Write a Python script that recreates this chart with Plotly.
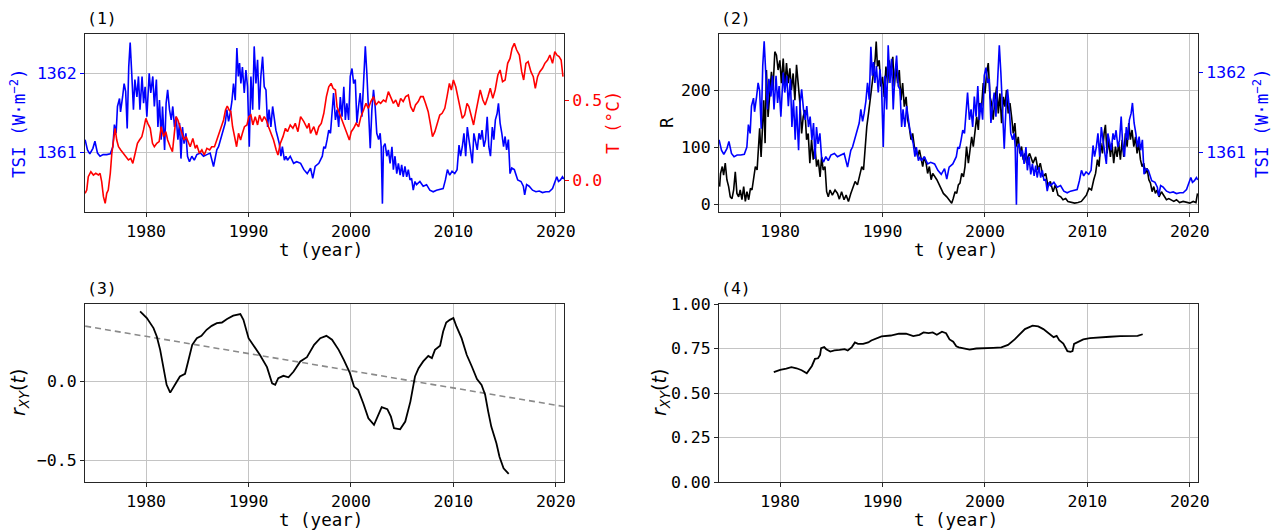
import plotly.graph_objects as go

# ---------------- data ----------------
tsi_t = [1974.04,1974.27,1974.5,1974.8,1975.0,1975.25,1975.5,1975.8,1976.15,1976.5,1976.75,1976.9,1977.07,1977.2,1977.4,1977.5,1977.7,1977.85,1978.0,1978.15,1978.3,1978.44,1978.6,1978.76,1978.9,1979.1,1979.25,1979.4,1979.6,1979.75,1979.9,1980.07,1980.3,1980.45,1980.65,1980.8,1981.0,1981.15,1981.3,1981.47,1981.6,1981.8,1981.95,1982.1,1982.28,1982.45,1982.6,1982.77,1982.93,1983.1,1983.26,1983.4,1983.55,1983.7,1983.88,1984.04,1984.23,1984.46,1984.7,1984.95,1985.3,1985.6,1985.93,1986.25,1986.58,1986.74,1986.9,1987.07,1987.23,1987.4,1987.56,1987.72,1987.88,1988.05,1988.2,1988.37,1988.53,1988.7,1988.86,1989.0,1989.12,1989.25,1989.4,1989.58,1989.74,1989.9,1990.07,1990.23,1990.4,1990.55,1990.72,1990.88,1991.04,1991.2,1991.37,1991.53,1991.7,1991.86,1992.0,1992.18,1992.35,1992.5,1992.67,1992.83,1993.0,1993.16,1993.3,1993.5,1993.65,1993.8,1994.07,1994.4,1994.7,1995.08,1995.4,1995.73,1996.05,1996.27,1996.5,1996.86,1997.2,1997.35,1997.5,1997.67,1997.83,1998.0,1998.15,1998.3,1998.48,1998.64,1998.8,1998.96,1999.13,1999.3,1999.45,1999.6,1999.77,1999.93,2000.1,2000.26,2000.42,2000.58,2000.74,2000.9,2001.07,2001.23,2001.4,2001.55,2001.7,2001.88,2002.04,2002.2,2002.36,2002.52,2002.7,2002.85,2002.95,2003.07,2003.17,2003.33,2003.5,2003.65,2003.82,2004.0,2004.14,2004.3,2004.47,2004.63,2004.8,2004.95,2005.1,2005.27,2005.44,2005.6,2005.76,2005.92,2006.08,2006.25,2006.4,2006.73,2007.05,2007.38,2007.7,2008.03,2008.35,2008.67,2009.0,2009.22,2009.42,2009.64,2009.87,2010.13,2010.36,2010.55,2010.7,2010.87,2011.03,2011.2,2011.36,2011.52,2011.68,2011.85,2012.0,2012.17,2012.33,2012.5,2012.65,2012.8,2012.98,2013.14,2013.3,2013.46,2013.62,2013.8,2013.95,2014.1,2014.27,2014.4,2014.56,2014.73,2014.9,2015.05,2015.2,2015.37,2015.53,2015.7,2015.95,2016.28,2016.6,2016.83,2016.96,2017.15,2017.4,2017.73,2018.06,2018.38,2018.7,2019.03,2019.35,2019.68,2019.94,2020.1,2020.26,2020.45,2020.65,2020.78]
tsi = [1361.16,1361.03,1360.98,1361.05,1361.14,1360.99,1360.95,1360.97,1360.97,1360.98,1361.07,1361.35,1361.24,1361.58,1361.68,1361.51,1361.70,1361.87,1361.77,1361.30,1362.08,1362.39,1361.98,1361.54,1361.92,1361.70,1361.96,1361.54,1361.96,1361.62,1361.83,1361.45,1362.0,1361.75,1361.96,1361.58,1361.92,1361.32,1361.66,1361.16,1361.58,1361.03,1361.62,1361.79,1361.54,1361.41,1361.58,1361.32,1361.45,1361.16,1361.37,1360.92,1361.32,1361.11,1361.24,1360.95,1360.88,1360.95,1360.90,1360.97,1360.99,1360.95,1360.97,1360.99,1360.82,1360.95,1361.03,1361.07,1361.14,1361.24,1361.28,1361.37,1361.54,1361.39,1361.49,1361.64,1361.87,1361.66,1362.32,1361.96,1362.13,1361.87,1362.08,1361.75,1362.04,1361.83,1361.07,1361.96,1361.54,1362.34,1361.87,1362.17,1361.54,1361.96,1362.21,1361.83,1361.79,1361.32,1361.54,1361.32,1361.58,1361.41,1361.28,1361.20,1361.11,1360.95,1361.07,1360.90,1360.95,1360.90,1360.95,1360.86,1360.88,1360.86,1360.78,1360.73,1360.80,1360.67,1360.82,1360.86,1360.95,1361.07,1361.05,1361.16,1361.28,1361.24,1361.49,1361.75,1361.41,1361.54,1361.32,1361.70,1361.45,1361.83,1361.41,1361.62,1361.41,1361.96,1362.06,1361.87,1361.92,1361.37,1361.58,1361.75,1361.45,1361.92,1362.34,1362.0,1361.62,1361.05,1361.54,1361.79,1361.58,1361.24,1361.16,1361.24,1361.07,1360.35,1361.07,1361.11,1360.95,1361.03,1360.86,1361.07,1360.78,1360.95,1360.73,1360.86,1360.71,1360.84,1360.69,1360.82,1360.69,1360.78,1360.65,1360.67,1360.52,1360.63,1360.59,1360.63,1360.57,1360.59,1360.52,1360.50,1360.52,1360.53,1360.54,1360.65,1360.78,1360.71,1360.76,1360.73,1360.78,1361.09,1360.95,1361.07,1361.24,1360.95,1361.32,1361.16,1360.99,1360.86,1361.24,1361.11,1361.03,1361.24,1361.16,1361.28,1361.07,1361.16,1361.45,1361.07,1360.95,1361.32,1361.16,1361.41,1361.49,1361.62,1361.37,1361.24,1361.07,1361.20,1361.03,1361.16,1360.73,1360.80,1360.78,1360.65,1360.63,1360.57,1360.46,1360.59,1360.57,1360.52,1360.50,1360.51,1360.49,1360.50,1360.50,1360.54,1360.63,1360.69,1360.63,1360.65,1360.69,1360.66]

temp_t = [1974.04,1974.2,1974.35,1974.6,1974.85,1975.08,1975.34,1975.5,1975.66,1975.83,1976.0,1976.15,1976.3,1976.5,1976.65,1976.8,1976.97,1977.13,1977.3,1977.52,1977.8,1978.05,1978.27,1978.5,1978.7,1978.93,1979.15,1979.35,1979.58,1979.74,1979.97,1980.16,1980.4,1980.62,1980.8,1981.04,1981.27,1981.47,1981.7,1981.92,1982.1,1982.35,1982.57,1982.77,1982.93,1983.1,1983.26,1983.5,1983.7,1983.9,1984.14,1984.3,1984.56,1984.8,1984.95,1985.2,1985.44,1985.67,1985.93,1986.2,1986.4,1986.67,1986.9,1987.13,1987.36,1987.56,1987.75,1987.92,1988.1,1988.27,1988.44,1988.63,1988.83,1989.02,1989.22,1989.4,1989.6,1989.84,1990.03,1990.23,1990.42,1990.65,1990.88,1991.07,1991.3,1991.53,1991.73,1991.95,1992.18,1992.44,1992.7,1992.87,1993.1,1993.36,1993.6,1993.8,1994.07,1994.33,1994.56,1994.82,1995.08,1995.4,1995.73,1995.9,1996.05,1996.37,1996.63,1996.86,1997.1,1997.35,1997.6,1997.83,1998.06,1998.25,1998.48,1998.64,1998.87,1999.13,1999.35,1999.6,1999.84,2000.03,2000.26,2000.5,2000.74,2000.97,2001.23,2001.46,2001.7,2001.94,2002.2,2002.43,2002.7,2002.9,2003.17,2003.4,2003.65,2003.88,2004.14,2004.37,2004.63,2004.85,2005.1,2005.34,2005.6,2005.83,2006.08,2006.3,2006.57,2006.8,2007.05,2007.28,2007.54,2007.77,2007.96,2008.19,2008.41,2008.67,2008.9,2009.16,2009.38,2009.61,2009.8,2010.0,2010.23,2010.45,2010.68,2010.87,2011.1,2011.33,2011.52,2011.75,2011.97,2012.17,2012.4,2012.62,2012.88,2013.1,2013.37,2013.6,2013.85,2014.08,2014.34,2014.56,2014.8,2015.05,2015.3,2015.53,2015.73,2015.95,2016.18,2016.44,2016.67,2016.86,2017.08,2017.3,2017.57,2017.8,2018.0,2018.22,2018.44,2018.7,2018.93,2019.2,2019.42,2019.68,2019.9,2020.1,2020.32,2020.52,2020.7]
temp = [-0.083,-0.063,0.021,0.052,0.031,0.042,0.031,0.042,-0.01,-0.104,-0.146,-0.083,-0.063,0.042,0.167,0.25,0.323,0.25,0.208,0.188,0.167,0.146,0.125,0.135,0.104,0.167,0.229,0.25,0.271,0.313,0.385,0.354,0.323,0.229,0.208,0.229,0.24,0.333,0.271,0.302,0.25,0.208,0.177,0.302,0.396,0.375,0.344,0.292,0.25,0.271,0.229,0.208,0.26,0.198,0.219,0.167,0.188,0.156,0.198,0.188,0.208,0.208,0.25,0.292,0.333,0.375,0.438,0.4625,0.438,0.427,0.333,0.271,0.208,0.292,0.25,0.292,0.333,0.344,0.396,0.406,0.344,0.396,0.344,0.406,0.365,0.396,0.375,0.333,0.292,0.25,0.188,0.156,0.229,0.271,0.323,0.302,0.344,0.323,0.354,0.302,0.396,0.365,0.323,0.354,0.292,0.333,0.281,0.333,0.354,0.417,0.521,0.583,0.604,0.573,0.5625,0.458,0.417,0.375,0.344,0.292,0.25,0.302,0.323,0.354,0.333,0.396,0.438,0.479,0.448,0.49,0.521,0.469,0.49,0.479,0.5,0.49,0.552,0.521,0.479,0.5,0.458,0.51,0.49,0.521,0.531,0.458,0.427,0.469,0.49,0.521,0.521,0.479,0.427,0.344,0.271,0.302,0.354,0.406,0.417,0.448,0.521,0.604,0.5625,0.625,0.583,0.521,0.438,0.385,0.406,0.479,0.458,0.396,0.344,0.417,0.5,0.5625,0.5,0.469,0.521,0.573,0.51,0.5625,0.656,0.6875,0.615,0.625,0.729,0.76,0.823,0.854,0.8125,0.781,0.677,0.625,0.729,0.74,0.677,0.646,0.573,0.646,0.677,0.698,0.729,0.75,0.781,0.729,0.802,0.781,0.771,0.75,0.646]

ssn_t = [1974.09,1974.18,1974.35,1974.48,1974.64,1974.8,1974.97,1975.13,1975.3,1975.46,1975.62,1975.78,1975.95,1976.1,1976.27,1976.44,1976.6,1976.76,1976.93,1977.1,1977.25,1977.42,1977.58,1977.75,1977.9,1978.0,1978.14,1978.27,1978.4,1978.53,1978.66,1978.82,1979.0,1979.15,1979.3,1979.48,1979.64,1979.8,1979.97,1980.13,1980.3,1980.46,1980.62,1980.78,1980.95,1981.1,1981.27,1981.44,1981.6,1981.76,1981.93,1982.1,1982.25,1982.42,1982.58,1982.74,1982.9,1983.07,1983.23,1983.4,1983.56,1983.72,1983.9,1984.05,1984.2,1984.38,1984.54,1984.7,1984.87,1985.1,1985.36,1985.6,1985.78,1986.0,1986.24,1986.44,1986.67,1986.9,1987.1,1987.32,1987.55,1987.75,1987.97,1988.14,1988.3,1988.46,1988.63,1988.8,1988.95,1989.12,1989.28,1989.38,1989.5,1989.67,1989.83,1990.0,1990.16,1990.33,1990.5,1990.65,1990.82,1991.0,1991.14,1991.3,1991.47,1991.63,1991.8,1991.96,1992.12,1992.3,1992.45,1992.6,1992.78,1992.94,1993.1,1993.27,1993.43,1993.6,1993.76,1993.92,1994.08,1994.25,1994.4,1994.57,1994.74,1994.9,1995.3,1995.6,1995.94,1996.27,1996.6,1996.75,1996.9,1997.08,1997.24,1997.4,1997.56,1997.73,1997.9,1998.05,1998.2,1998.38,1998.54,1998.7,1998.86,1999.03,1999.19,1999.35,1999.5,1999.67,1999.83,2000.0,2000.16,2000.32,2000.49,2000.65,2000.8,2000.97,2001.14,2001.3,2001.46,2001.62,2001.8,2001.95,2002.1,2002.27,2002.44,2002.6,2002.76,2002.92,2003.08,2003.25,2003.4,2003.57,2003.73,2003.9,2004.06,2004.2,2004.36,2004.69,2004.95,2005.18,2005.4,2005.67,2005.93,2006.16,2006.38,2006.65,2006.87,2007.13,2007.4,2007.62,2007.88,2008.1,2008.44,2008.76,2009.09,2009.41,2009.64,2009.9,2010.16,2010.4,2010.62,2010.8,2010.98,2011.14,2011.3,2011.47,2011.63,2011.76,2011.92,2012.08,2012.25,2012.4,2012.57,2012.74,2012.9,2013.06,2013.22,2013.4,2013.55,2013.71,2013.88,2014.04,2014.2,2014.36,2014.53,2014.7,2014.85,2015.0,2015.18,2015.34,2015.5,2015.67,2015.83,2016.0,2016.16,2016.32,2016.48,2016.64,2016.8,2017.0,2017.23,2017.46,2017.72,2017.95,2018.2,2018.44,2018.7,2019.0,2019.35,2019.67,2020.0,2020.33,2020.6,2020.75]
ssn = [31,54,66,51,72,43,31,13,10,25,57,19,13,25,8,31,5,22,8,28,25,43,66,60,113,133,83,142,182,107,235,153,206,232,200,267,261,235,252,212,255,206,247,212,238,200,229,182,244,212,177,124,153,165,113,124,72,113,78,101,66,78,48,83,60,66,22,13,25,16,25,19,9,22,8,16,5,19,28,40,34,48,66,60,107,136,159,182,212,229,255,285,241,252,206,223,188,241,212,252,229,258,206,241,212,235,182,212,171,188,148,136,113,124,101,95,83,95,78,66,83,72,54,66,43,54,43,31,19,13,5,2,10,22,19,34,37,54,48,66,101,72,95,118,101,130,153,130,177,171,212,194,229,247,188,177,148,182,206,159,194,142,188,171,200,159,177,153,124,142,101,118,89,101,78,89,72,83,89,72,83,60,72,48,54,31,40,22,34,16,13,8,10,5,3,2,3,5,10,16,28,25,43,54,78,66,107,89,124,139,89,113,83,107,72,101,83,107,78,113,83,124,101,142,113,130,101,118,89,107,78,66,72,54,63,43,37,22,31,19,25,13,22,16,8,10,8,5,8,3,5,3,2,5,3,19]

r3_t = [1979.41,1980.07,1980.72,1981.04,1981.37,1981.7,1982.0,1982.35,1982.67,1983.0,1983.3,1983.8,1984.1,1984.5,1984.95,1985.4,1985.9,1986.4,1986.9,1987.4,1987.9,1988.5,1989.2,1989.5,1990.0,1990.5,1991.1,1991.8,1992.3,1992.6,1992.9,1993.4,1993.9,1994.4,1995.05,1995.7,1996.4,1997.0,1997.6,1998.15,1998.8,1999.3,1999.9,2000.3,2000.7,2001.2,2001.7,2002.25,2002.6,2003.0,2003.55,2003.9,2004.2,2004.8,2005.3,2005.8,2006.25,2006.6,2007.05,2007.55,2007.9,2008.2,2008.7,2009.0,2009.3,2009.65,2010.0,2010.3,2010.8,2011.3,2011.8,2012.3,2012.75,2013.1,2013.4,2013.7,2014.2,2014.5,2014.9,2015.4]
r3 = [0.443,0.401,0.338,0.285,0.20,0.074,-0.021,-0.070,-0.032,0.0,0.032,0.049,0.127,0.232,0.274,0.289,0.327,0.352,0.369,0.373,0.395,0.416,0.426,0.39,0.274,0.226,0.169,0.091,-0.011,-0.021,0.021,0.036,0.027,0.063,0.127,0.154,0.232,0.274,0.289,0.264,0.20,0.137,0.053,-0.032,-0.053,-0.137,-0.232,-0.274,-0.222,-0.162,-0.175,-0.222,-0.295,-0.302,-0.253,-0.127,0.032,0.084,0.127,0.162,0.148,0.20,0.226,0.316,0.373,0.39,0.401,0.348,0.274,0.169,0.095,0.015,-0.021,-0.084,-0.19,-0.285,-0.39,-0.475,-0.549,-0.584]
trend_t = [1974.05, 2020.8]
trend_r = [0.35, -0.158]

r4_t = [1979.38,1980.0,1980.6,1981.1,1981.6,1982.1,1982.6,1982.8,1983.1,1983.4,1983.7,1983.9,1984.0,1984.3,1984.5,1984.9,1985.3,1985.8,1986.3,1986.6,1987.0,1987.3,1987.6,1988.1,1988.6,1988.9,1989.4,1989.9,1990.8,1991.6,1992.3,1993.0,1993.6,1994.0,1994.5,1994.9,1995.3,1995.8,1996.2,1996.54,1996.9,1997.2,1997.45,1997.85,1998.5,1999.15,2000.0,2000.8,2001.6,2002.25,2002.9,2003.4,2003.9,2004.65,2005.2,2005.7,2006.2,2006.7,2007.0,2007.25,2007.65,2008.05,2008.35,2008.55,2008.7,2009.1,2009.6,2010.25,2011.2,2012.2,2013.2,2014.2,2014.9,2015.4]
r4 = [0.617,0.630,0.637,0.645,0.639,0.628,0.611,0.626,0.652,0.692,0.695,0.714,0.752,0.758,0.746,0.733,0.739,0.742,0.746,0.739,0.758,0.784,0.776,0.776,0.784,0.795,0.805,0.818,0.823,0.833,0.833,0.820,0.827,0.840,0.836,0.840,0.827,0.844,0.836,0.801,0.788,0.763,0.756,0.75,0.744,0.75,0.75,0.754,0.756,0.77,0.801,0.83,0.859,0.878,0.874,0.859,0.836,0.814,0.821,0.797,0.778,0.735,0.731,0.735,0.776,0.786,0.801,0.808,0.81,0.816,0.820,0.821,0.821,0.83]

x_ticks = [1980, 1990, 2000, 2010, 2020]

# ---------------- styling ----------------
W, H = 1276, 530
FONT = "DejaVu Sans Mono"
FS = 16.5
FT = 17.5
BLUE, RED, BLACK = "#0000ff", "#ff0000", "#000000"
GRID = "#c4c4c4"
FRAME = "#262626"

xl = [85 / W, 564 / W]
xr = [719 / W, 1198 / W]
yt = [1 - 212 / H, 1 - 34 / H]
yb = [1 - 482 / H, 1 - 304 / H]
xrange_ = [1974.03, 2020.8]

fig = go.Figure()
fig.add_trace(go.Scatter(x=tsi_t, y=tsi, mode="lines", line=dict(color=BLUE, width=1.6), xaxis="x", yaxis="y"))
fig.add_trace(go.Scatter(x=temp_t, y=temp, mode="lines", line=dict(color=RED, width=1.6), xaxis="x", yaxis="y2"))
fig.add_trace(go.Scatter(x=ssn_t, y=ssn, mode="lines", line=dict(color=BLACK, width=1.6), xaxis="x2", yaxis="y3"))
fig.add_trace(go.Scatter(x=tsi_t, y=tsi, mode="lines", line=dict(color=BLUE, width=1.6), xaxis="x2", yaxis="y4"))
fig.add_trace(go.Scatter(x=trend_t, y=trend_r, mode="lines", line=dict(color="#8a8a8a", width=1.6, dash="6px,4px"), xaxis="x3", yaxis="y5"))
fig.add_trace(go.Scatter(x=r3_t, y=r3, mode="lines", line=dict(color=BLACK, width=1.8), xaxis="x3", yaxis="y5"))
fig.add_trace(go.Scatter(x=r4_t, y=r4, mode="lines", line=dict(color=BLACK, width=1.8), xaxis="x4", yaxis="y6"))


def xax(domain, anchor):
    return dict(domain=domain, anchor=anchor, range=xrange_, tickvals=x_ticks,
                ticks="outside", ticklen=4, tickcolor=FRAME, showline=True, mirror=True,
                linecolor=FRAME, linewidth=1, showgrid=True, gridcolor=GRID, gridwidth=1,
                zeroline=False, tickfont=dict(family=FONT, size=FS, color=BLACK), automargin=False)


def yax(domain, anchor, rng, ticks, fmt, color, grid=True, side="left", overlay=None):
    d = dict(anchor=anchor, range=rng, tickvals=ticks, tickformat=fmt, side=side,
             ticks="outside", ticklen=4, tickcolor=color if color != BLACK else FRAME,
             showgrid=grid, gridcolor=GRID, gridwidth=1, zeroline=False,
             tickfont=dict(family=FONT, size=FS, color=color), automargin=False)
    if overlay:
        d.update(overlaying=overlay, showline=False)
    else:
        d.update(domain=domain, showline=True, mirror=True, linecolor=FRAME, linewidth=1)
    return d


fig.update_layout(
    width=W, height=H, margin=dict(l=0, r=0, t=0, b=0),
    paper_bgcolor="white", plot_bgcolor="white", showlegend=False,
    xaxis=xax(xl, "y"),
    yaxis=yax(yt, "x", [1360.244, 1362.497], [1361, 1362], "d", BLUE),
    yaxis2=yax(None, "x", [-0.2, 0.9125], [0.0, 0.5], ".1f", RED, grid=False, side="right", overlay="y"),
    xaxis2=xax(xr, "y3"),
    yaxis3=yax(yt, "x2", [-13.5, 298], [0, 100, 200], "d", BLACK),
    yaxis4=yax(None, "x2", [1360.26, 1362.48], [1361, 1362], "d", BLUE, grid=False, side="right", overlay="y3"),
    xaxis3=xax(xl, "y5"),
    yaxis5=yax(yb, "x3", [-0.635, 0.49], [-0.5, 0.0], ".1f", BLACK),
    xaxis4=xax(xr, "y6"),
    yaxis6=yax(yb, "x4", [0, 1], [0, 0.25, 0.5, 0.75, 1.0], ".2f", BLACK),
)

ann = []


def text(x, y, s, color=BLACK, angle=0, xanchor="center", yanchor="middle", family=FONT, size=FT):
    ann.append(dict(x=x / W, y=1 - y / H, xref="paper", yref="paper", text=s, showarrow=False,
                    textangle=angle, xanchor=xanchor, yanchor=yanchor,
                    font=dict(family=family, size=size, color=color)))


# panel labels
text(85, 30, "(1)", xanchor="left", yanchor="bottom", size=FS)
text(719, 30, "(2)", xanchor="left", yanchor="bottom", size=FS)
text(85, 300, "(3)", xanchor="left", yanchor="bottom", size=FS)
text(719, 300, "(4)", xanchor="left", yanchor="bottom", size=FS)
# x titles
for cx, cy in [(321, 250), (956, 250), (321, 520), (956, 520)]:
    text(cx, cy, "t (year)")
# y titles
tsi_lab = "TSI (W·m<sup>−2</sup>)"
rxy = "<i>r</i><sub><i>XY</i></sub>(<i>t</i>)"
text(18, 123, tsi_lab, color=BLUE, angle=-90)
text(613, 123, "T (°C)", color=RED, angle=-90)
text(667, 123, "R", angle=-90)
text(1261, 123, tsi_lab, color=BLUE, angle=-90)
text(19, 393, rxy, angle=-90, family="DejaVu Sans", size=19)
text(660, 393, rxy, angle=-90, family="DejaVu Sans", size=19)

fig.update_layout(annotations=ann)
fig.write_html("out.html")
